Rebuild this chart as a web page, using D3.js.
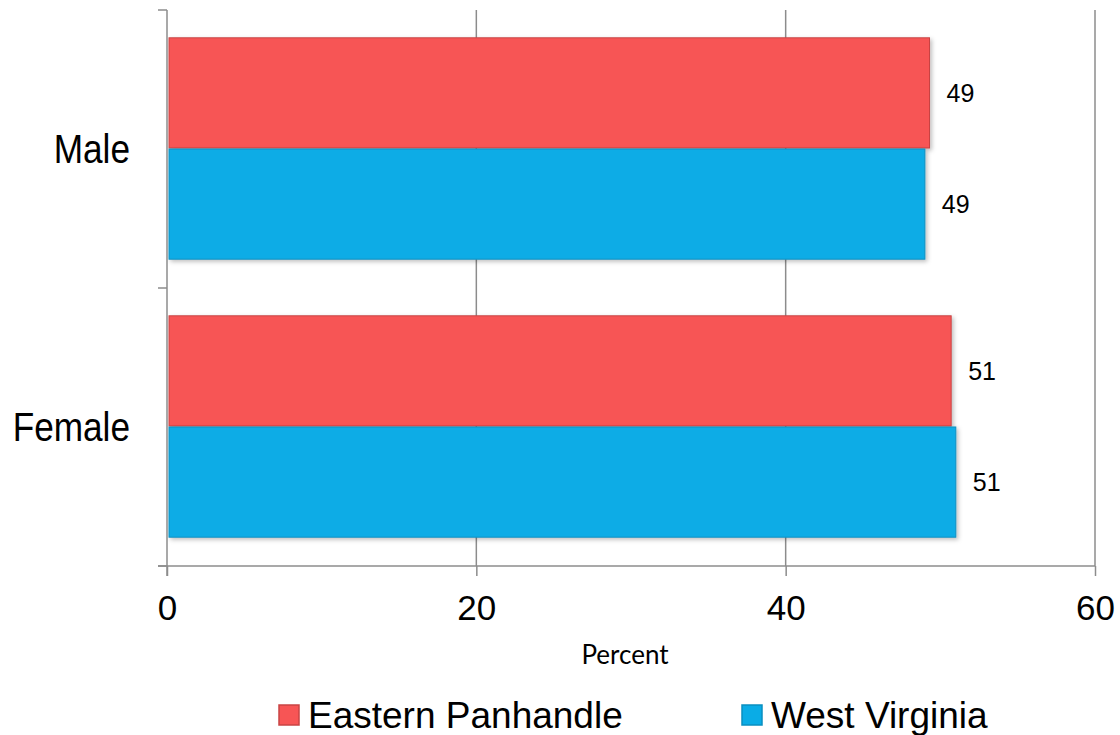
<!DOCTYPE html>
<meta charset="utf-8">
<style>
body { margin: 0; background: #fff; }
.grid line { stroke: #8c8c8c; stroke-width: 1.5px; }
.axis path, .axis line { stroke: #8c8c8c; stroke-width: 1.5px; }
.lbl { font-family: "Liberation Sans", Arial, sans-serif; fill: #000; }
</style>
<svg width="1120" height="735"></svg>
<script src="https://cdn.jsdelivr.net/npm/d3@7"></script>
<script>
// data
var categories = ["Male", "Female"];
var seriesNames = ["Eastern Panhandle", "West Virginia"];
var easternPanhandle = [49.3, 50.7];
var westVirginia = [49.0, 51.0];
var valueLabels = [["49", "49"], ["51", "51"]]; // [category][series]
var xTicks = [0, 20, 40, 60];

var colors = ["#f75555", "#0aace6"];
var edges = ["#c94444", "#0a8fc0"];

var svg = d3.select("svg"),
    margin = {top: 10, right: 25, bottom: 169, left: 167},
    width = 1120 - margin.left - margin.right,
    height = 735 - margin.top - margin.bottom,
    g = svg.append("g").attr("transform", "translate(" + margin.left + "," + margin.top + ")");

var defs = svg.append("defs");
var f = defs.append("filter").attr("id", "shadow").attr("x", "-5%").attr("y", "-10%").attr("width", "112%").attr("height", "125%");
f.append("feDropShadow").attr("dx", 2).attr("dy", 2).attr("stdDeviation", 2).attr("flood-color", "#000").attr("flood-opacity", 0.25);

var x = d3.scaleLinear().domain([0, 60]).range([0, width]);
var y0 = d3.scaleBand().domain(categories).range([0, height]).paddingInner(0).paddingOuter(0);
var y1 = d3.scaleBand().domain(seriesNames).range([0, y0.bandwidth()]).paddingOuter(0.25).paddingInner(0);

var rows = categories.map(function(c, i) {
  return {cat: c, values: [
    {name: seriesNames[0], value: easternPanhandle[i], label: valueLabels[i][0], idx: 0},
    {name: seriesNames[1], value: westVirginia[i], label: valueLabels[i][1], idx: 1}
  ]};
});

// grid
g.append("g").attr("class", "grid")
  .selectAll("line").data(xTicks.slice(1)).enter().append("line")
    .attr("x1", function(d) { return x(d); }).attr("x2", function(d) { return x(d); })
    .attr("y1", 0).attr("y2", height);

// bars
var grp = g.selectAll(".cat").data(rows).enter().append("g")
    .attr("class", "cat")
    .attr("transform", function(d) { return "translate(0," + y0(d.cat) + ")"; });

grp.selectAll("rect").data(function(d) { return d.values; }).enter().append("rect")
    .attr("x", 2)
    .attr("y", function(d) { return y1(d.name); })
    .attr("width", function(d) { return x(d.value) - 2; })
    .attr("height", y1.bandwidth() - 1)
    .attr("fill", function(d) { return colors[d.idx]; })
    .attr("stroke", function(d) { return edges[d.idx]; })
    .attr("stroke-width", 1)
    .attr("filter", "url(#shadow)");

grp.selectAll(".val").data(function(d) { return d.values; }).enter().append("text")
    .attr("class", "lbl val")
    .attr("x", function(d) { return x(d.value) + 17; })
    .attr("y", function(d) { return y1(d.name) + y1.bandwidth() / 2; })
    .attr("dy", "0.35em")
    .style("font-size", "25px")
    .text(function(d) { return d.label; });

// axes
var yAxis = g.append("g").attr("class", "axis")
    .call(d3.axisLeft(y0).tickValues([]).tickSizeOuter(0));
yAxis.selectAll(".tk").data([0, height / 2, height]).enter().append("line")
    .attr("x1", -9).attr("x2", 0)
    .attr("y1", function(d) { return d; }).attr("y2", function(d) { return d; })
    .attr("stroke", "#8c8c8c").attr("stroke-width", 1.5);
yAxis.select("path").attr("d", "M0,0V" + (height + 10));

// narrow category labels (no narrow font installed, so squeeze horizontally)
g.selectAll(".catlbl").data(categories).enter().append("text")
    .attr("class", "lbl")
    .attr("transform", function(d) { return "translate(-37," + (y0(d) + y0.bandwidth() / 2) + ") scale(0.88,1)"; })
    .attr("dy", "0.35em")
    .attr("text-anchor", "end")
    .style("font-size", "40px")
    .text(function(d) { return d; });

var xAxis = g.append("g").attr("class", "axis")
    .attr("transform", "translate(0," + height + ")")
    .call(d3.axisBottom(x).tickValues(xTicks).tickSize(10).tickPadding(19).tickSizeOuter(0));
xAxis.select("path").attr("d", "M-9,0H" + width);
xAxis.selectAll("text").attr("class", "lbl")
    .style("font-size", "35px").attr("fill", "#000");

g.append("text")
    .attr("x", x(30) - 6).attr("y", height + 98)
    .attr("text-anchor", "middle")
    .style("font-family", "Lato, 'Open Sans', sans-serif")
    .style("font-size", "26px")
    .text("Percent");

// legend
var legend = svg.append("g");
var legX = [279, 742];
seriesNames.forEach(function(s, i) {
  var lg = legend.append("g").attr("transform", "translate(" + legX[i] + ",705)");
  lg.append("rect").attr("width", 20).attr("height", 20)
    .attr("fill", colors[i]).attr("stroke", edges[i]).attr("stroke-width", 1.5);
  lg.append("text").attr("class", "lbl")
    .attr("x", 29).attr("y", 10).attr("dy", "0.36em")
    .style("font-size", "37px")
    .text(s);
});
</script>
